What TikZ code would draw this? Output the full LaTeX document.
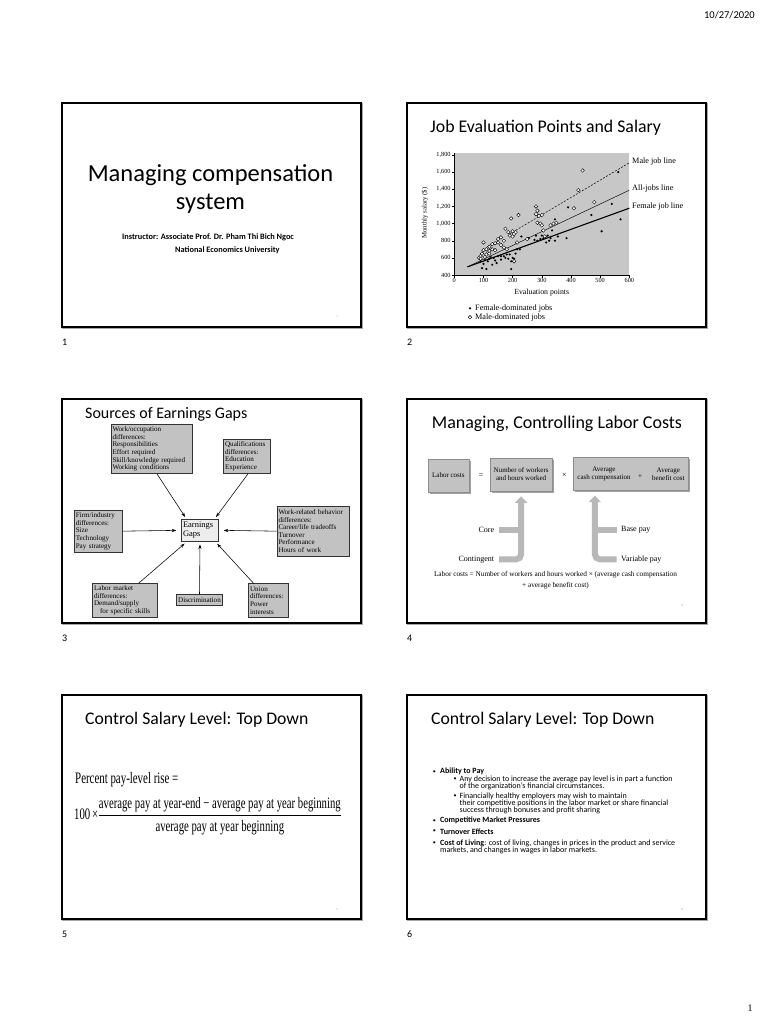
\documentclass[tikz,border=0pt]{standalone}
\usepackage{fontspec}
\setmainfont{Liberation Serif}
\newfontfamily\slidesans{Carlito}
\usetikzlibrary{arrows.meta,shadows}

\begin{document}
\begin{tikzpicture}[x=1pt, y=-1pt,
    slideframe/.style={draw=black, line width=1.1pt},
    frameshadow/.style={draw=black!35, line width=1.5pt},
    slidetitle/.style={font=\slidesans\fontsize{17.8}{21}\selectfont, inner sep=0pt, anchor=west},
    pagemark/.style={font=\slidesans\fontsize{10}{12}\selectfont, inner sep=0pt, anchor=west},
    tinynum/.style={font=\fontsize{3}{3}\selectfont, text=black!45, inner sep=0pt},
    gapbox/.style={draw=black!80, line width=0.6pt, fill=black!24, anchor=north west,
        align=left, font=\fontsize{7.1}{7.6}\selectfont, inner sep=1.5pt},
    gaparrow/.style={-{Stealth[length=4.5pt,width=3.2pt]}, line width=0.55pt},
    costbox/.style={fill=black!24, draw=black!45, line width=0.3pt,
        drop shadow={shadow xshift=1.8pt, shadow yshift=-1.8pt, fill=black!60, opacity=0.6}},
    costtext/.style={font=\fontsize{7}{8.4}\selectfont, align=center, inner sep=0pt},
    costlabel/.style={font=\fontsize{8}{9}\selectfont, inner sep=0pt},
    costbar/.style={line width=6pt, draw=black!28},
    ticklabel/.style={font=\fontsize{6.3}{7}\selectfont, inner sep=1pt},
    chartlabel/.style={font=\fontsize{8.2}{9}\selectfont, inner sep=0pt, anchor=west},
    femaledot/.style={fill=black},
    maledot/.style={draw=black, fill=white, line width=0.4pt},
    bullettext/.style={font=\slidesans\fontsize{8}{7.1}\selectfont, inner sep=0pt, anchor=west, align=left},
]
    \useasboundingbox (0,0) rectangle (768,1024);

    % page header and footer
    \node[font=\slidesans\fontsize{10.5}{12}\selectfont, inner sep=0pt, anchor=east] (date) at (755,15) {10/27/2020};
    \node[font=\fontsize{10}{12}\selectfont, inner sep=0pt] (pageno) at (750,1008) {1};

    % six slide frames
    \foreach \fx/\fy/\sn in {62/103/1, 407/103/2, 62/399/3, 407/399/4, 62/695/5, 407/695/6} {
        \draw[frameshadow] (\fx+1.2,\fy+1.2) rectangle (\fx+300.2,\fy+225.2);
        \draw[slideframe, fill=white] (\fx,\fy) rectangle (\fx+299,\fy+224);
        \node[pagemark] (label\sn) at (\fx,\fy+239) {\sn};
    }

    % slide 1
    \node[font=\slidesans\fontsize{24.5}{28}\selectfont, align=center, inner sep=0pt] (title1) at (210.5,189)
        {Managing compensation\\system};
    \node[font=\slidesans\bfseries\fontsize{8.3}{9}\selectfont, inner sep=0pt, anchor=west] (instructor) at (122,237)
        {Instructor: Associate Prof. Dr. Pham Thi Bich Ngoc};
    \node[font=\slidesans\bfseries\fontsize{8.3}{9}\selectfont, inner sep=0pt, anchor=west] (university) at (175,250)
        {National Economics University};
    \node[tinynum] (tiny1) at (337,317) {1};

    % slide 2
    \node[slidetitle] (title2) at (430,128) {Job Evaluation Points and Salary};
    \begin{scope}[shift={(454.3,309.3)}, x=0.2917pt, y=0.0857pt]
        \fill[black!22] (0,400) rectangle (600,1820);
        \draw[line width=0.5pt] (0,1820) -- (0,400) -- (600,400);
        \foreach \y/\lab in {400/400, 600/600, 800/800, 1000/{1,000}, 1200/{1,200}, 1400/{1,400}, 1600/{1,600}, 1800/{1,800}} {
            \draw[line width=0.4pt] (0,\y) -- ++(-2.5pt,0);
            \node[ticklabel, anchor=east, xshift=-2.5pt] (yt\y) at (0,\y) {\lab};
        }
        \foreach \x in {0,100,...,600} {
            \draw[line width=0.4pt] (\x,400) -- ++(0,-2.5pt);
            \node[ticklabel, anchor=north, yshift=-2pt] (xt\x) at (\x,400) {\x};
        }
        \draw[line width=0.5pt, dash pattern=on 2pt off 1.5pt] (190,880) -- (600,1710);
        \draw[line width=0.45pt] (45,495) -- (600,1390);
        \draw[line width=1.1pt] (45,495) -- (600,1180);
        \foreach \px/\py in {95/480, 110/470, 100/530, 115/560, 120/590, 130/520, 135/600, 145/540, 150/620,
            160/580, 170/620, 175/600, 185/590, 195/470, 195/560, 200/600, 205/590, 210/650, 215/700, 180/640,
            160/620, 125/610, 105/575, 90/560, 140/570, 230/850, 280/860, 285/800, 295/820, 305/830, 315/780,
            320/860, 330/830, 335/920, 345/1050, 345/800, 355/850, 385/830, 390/1190, 470/1100, 505/910,
            540/1230, 562/1600, 570/1050, 300/860, 275/810, 325/800, 225/700, 190/640, 255/830}
            \fill[femaledot] (\px,\py) circle[radius=1.2pt];
        \foreach \px/\py in {85/600, 90/620, 95/650, 100/690, 100/780, 110/700, 110/640, 120/730, 120/680,
            130/760, 130/700, 140/770, 150/820, 150/780, 160/840, 160/750, 170/800, 175/940, 180/700, 185/900,
            190/860, 195/1060, 200/910, 200/850, 205/560, 205/880, 210/900, 215/780, 220/1100, 250/820,
            280/1200, 280/1110, 285/1150, 290/1090, 295/1000, 300/1100, 285/1010, 305/920, 310/850, 330/980,
            340/1000, 350/1010, 410/1180, 425/1390, 440/1620, 480/1250, 300/980, 170/720, 140/690, 105/610,
            90/590, 120/650}
            \draw[maledot] (\px,\py) circle[radius=1.8pt];
    \end{scope}
    \node[chartlabel] (maleline) at (632,162) {Male job line};
    \node[chartlabel] (allline) at (632,189) {All-jobs line};
    \node[chartlabel] (femaleline) at (632,207) {Female job line};
    \node[font=\fontsize{7.8}{9}\selectfont, inner sep=0pt] (xaxis) at (541.7,292.7) {Evaluation points};
    \node[font=\fontsize{6.8}{8}\selectfont, inner sep=0pt, rotate=90] (yaxis) at (425,213) {Monthly salary (\$)};
    \fill[femaledot] (470,308.3) circle[radius=1.2pt];
    \draw[maledot] (470,317.3) circle[radius=1.8pt];
    \node[chartlabel] (femalekey) at (475,308.3) {Female-dominated jobs};
    \node[chartlabel] (malekey) at (475,317.3) {Male-dominated jobs};

    % slide 3
    \node[slidetitle, font=\slidesans\fontsize{16}{19}\selectfont] (title3) at (85,414) {Sources of Earnings Gaps};
    \node[gapbox, text width=78pt, minimum height=49pt] (workocc) at (110.7,424.3)
        {Work/occupation\\differences:\\Responsibilities\\Effort required\\Skill/knowledge required\\Working conditions};
    \node[gapbox, text width=43.7pt, minimum height=34.3pt] (qualif) at (223.3,439)
        {Qualifications\\differences:\\Education\\Experience};
    \node[gapbox, text width=45.3pt, minimum height=41.7pt] (firm) at (74,510)
        {Firm/industry\\differences:\\Size\\Technology\\Pay strategy};
    \node[gapbox, text width=69pt, minimum height=49.7pt] (workrel) at (276.7,506)
        {Work-related behavior\\differences:\\Career/life tradeoffs\\Turnover\\Performance\\Hours of work};
    \node[gapbox, text width=61.4pt, minimum height=33.4pt] (labor) at (92.3,583.3)
        {Labor market\\differences:\\Demand/supply\\\hspace*{6pt}for specific skills};
    \node[gapbox, text width=37pt, minimum height=33.4pt] (union) at (248.3,583.3)
        {Union\\differences:\\Power\\interests};
    \node[gapbox, anchor=center, minimum height=11.4pt] (discr) at (199.5,600) {Discrimination};
    \node[gapbox, anchor=center, fill=black!7, text width=34pt, minimum height=22.7pt,
        font=\fontsize{8.5}{9.5}\selectfont] (gaps) at (200,530.3) {Earnings\\Gaps};
    \draw[gaparrow, shorten >=2pt] ([xshift=5.5pt]workocc.south) -- ([xshift=5pt]gaps.north west);
    \draw[gaparrow, shorten >=2pt] ([xshift=1pt]qualif.south) -- ([xshift=-4pt]gaps.north east);
    \draw[gaparrow, shorten >=5pt] (firm.east) -- (gaps.west);
    \draw[gaparrow, shorten >=5pt] (workrel.west) -- (gaps.east);
    \draw[gaparrow, shorten >=2.5pt] ([xshift=13.8pt]labor.north) -- ([xshift=5.3pt]gaps.south west);
    \draw[gaparrow, shorten >=2.5pt] (discr.north) -- (gaps.south);
    \draw[gaparrow, shorten >=2.5pt] ([xshift=-15pt]union.north) -- ([xshift=-3.3pt]gaps.south east);

    % slide 4
    \node[slidetitle, font=\slidesans\fontsize{18}{21}\selectfont] (title4) at (431.7,423.3) {Managing, Controlling Labor Costs};
    \node[costbox, minimum width=41.3pt, minimum height=32.7pt] (costbox) at (448.35,475.35) {};
    \node[costtext] (costname) at (costbox.center) {Labor costs};
    \node[costtext, font=\fontsize{8}{9}\selectfont] (equals) at (481,475.7) {=};
    \node[costbox, minimum width=62.3pt, minimum height=33pt] (numbox) at (521.15,474.2) {};
    \node[costtext] (numtext) at (numbox.center) {Number of workers\\and hours worked};
    \node[costtext, font=\fontsize{8}{9}\selectfont] (times) at (564.3,475) {×};
    \node[costbox, minimum width=114.4pt, minimum height=33pt] (avgbox) at (630.5,473.5) {};
    \node[costtext] (avgcash) at (604,474) {Average\\cash compensation};
    \node[costtext] (avgplus) at (640,476.7) {+};
    \node[costtext] (avgbenefit) at (668.3,474) {Average\\benefit cost};
    \node[costlabel, anchor=east] (core) at (494.3,530) {Core};
    \node[costlabel, anchor=east] (contingent) at (494.3,559.3) {Contingent};
    \node[costlabel, anchor=west] (basepay) at (621,530) {Base pay};
    \node[costlabel, anchor=west] (varpay) at (621,559.3) {Variable pay};
    \coordinate (avgstem) at ([xshift=21.7pt]avgbox.south west);
    \draw[costbar] ([xshift=4.7pt]core.east) -- (core.east -| numbox.south);
    \draw[costbar, rounded corners=5pt, -{Triangle[length=6.5pt,width=12pt]}, shorten >=5.5pt]
        ([xshift=4.7pt]contingent.east) -| (numbox.south);
    \draw[costbar] ([xshift=-4.3pt]basepay.west) -- (basepay.west -| avgstem);
    \draw[costbar, rounded corners=5pt, -{Triangle[length=6.5pt,width=12pt]}, shorten >=5.5pt]
        ([xshift=-4.3pt]varpay.west) -| (avgstem);
    \node[costtext, font=\fontsize{7.3}{10.7}\selectfont] (costcap) at (555.5,580.3)
        {Labor costs = Number of workers and hours worked × (average cash compensation\\+ average benefit cost)};
    \node[tinynum] (tiny4) at (682,606) {4};

    % slide 5
    \node[slidetitle, font=\slidesans\fontsize{17.7}{20}\selectfont] (title5) at (85,719.3) {Control Salary Level: Top Down};
    \node[inner sep=0pt, anchor=west, font=\fontsize{16}{19}\selectfont] (riselabel) at (75,780)
        {\scalebox{0.68}[1]{Percent pay-level rise =}};
    \node[inner sep=0pt, anchor=west, font=\fontsize{16}{19}\selectfont] (riseformula) at (74,816)
        {\scalebox{0.67}[1]{$\displaystyle \mbox{100\,×}\frac{\mbox{average pay at year-end − average pay at year beginning}}{\mbox{average pay at year beginning}}$}};
    \node[tinynum] (tiny5) at (337,910) {5};

    % slide 6
    \node[slidetitle, font=\slidesans\fontsize{17.7}{20}\selectfont] (title6) at (431,719.3) {Control Salary Level: Top Down};
    \foreach \by/\bx/\bn in {771.7/434.3/1, 779.3/455/2, 796/455/3, 820.7/434.3/4, 831.3/434.3/5, 843.3/434.3/6}
        \node[font=\slidesans\fontsize{6}{6}\selectfont, inner sep=0pt] (dot\bn) at (\bx,\by) {•};
    \node[bullettext] (ability) at (440,771.7) {\bfseries Ability to Pay};
    \node[bullettext] (decision) at (459.5,782.5)
        {Any decision to increase the average pay level is in part a function\\of the organization’s financial circumstances.};
    \node[bullettext] (healthy) at (459.5,803.2)
        {Financially healthy employers may wish to maintain\\their competitive positions in the labor market or share financial\\success through bonuses and profit sharing};
    \node[bullettext] (market) at (440,820.7) {\bfseries Competitive Market Pressures};
    \node[bullettext] (turnover) at (440,831.3) {\bfseries Turnover Effects};
    \node[bullettext] (living) at (440,846.7)
        {\textbf{Cost of Living}: cost of living, changes in prices in the product and service\\markets, and changes in wages in labor markets.};
    \node[tinynum] (tiny6) at (682,910) {6};
\end{tikzpicture}
\end{document}
